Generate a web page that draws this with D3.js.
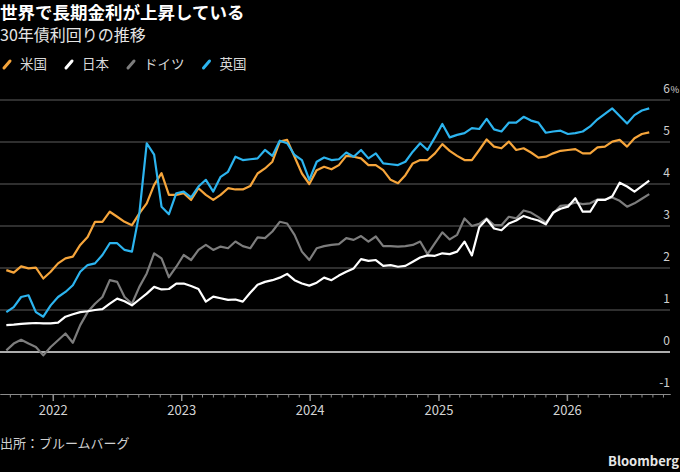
<!DOCTYPE html>
<html>
<head>
<meta charset="utf-8">
<script src="https://cdn.jsdelivr.net/npm/d3@7"></script>
<style>
  html, body { margin: 0; padding: 0; background: #000; }
  svg { display: block; font-family: "Noto Sans CJK JP", "Noto Sans", sans-serif; }
</style>
</head>
<body>
<div id="chart"></div>
<script>
const startDate = "2021-08-22";
const stepDays = 21;

const usYields = [
    1.95, 1.89, 2.04, 1.99, 2.01, 1.75, 1.91, 2.11, 2.23, 2.27, 2.55, 2.74, 3.10, 3.10, 3.34, 3.22,
    3.10, 3.02, 3.30, 3.54, 3.98, 4.26, 3.74,
    3.74, 3.78, 3.62, 3.90, 3.74, 3.62, 3.74, 3.90, 3.87, 3.87, 3.95, 4.25, 4.37, 4.53, 5.01, 5.05,
    4.65, 4.25, 4.00, 4.33, 4.41, 4.35,
    4.45, 4.67, 4.65, 4.61, 4.45, 4.45, 4.33, 4.10, 4.02, 4.21, 4.49, 4.57, 4.57, 4.73, 4.95, 4.79,
    4.67, 4.57, 4.57, 4.81, 5.06, 4.89,
    4.85, 5.01, 4.81, 4.85, 4.75, 4.63, 4.65, 4.73, 4.79, 4.81, 4.83, 4.73, 4.73, 4.87, 4.89, 5.01,
    5.05, 4.89, 5.09, 5.19, 5.23
];
const japanYields = [
    0.64, 0.65, 0.67, 0.68, 0.69, 0.68, 0.68, 0.70, 0.84, 0.90, 0.95, 0.97, 1.00, 1.02, 1.15, 1.27,
    1.21, 1.11, 1.25, 1.39, 1.55, 1.49, 1.50,
    1.63, 1.63, 1.57, 1.50, 1.20, 1.32, 1.28, 1.24, 1.25, 1.20, 1.41, 1.60, 1.67, 1.71, 1.77, 1.86,
    1.71, 1.63, 1.58, 1.65, 1.77, 1.71,
    1.82, 1.91, 1.99, 2.21, 2.17, 2.19, 2.05, 2.07, 2.03, 2.05, 2.15, 2.25, 2.30, 2.29, 2.35, 2.33,
    2.39, 2.63, 2.30, 2.97, 3.16, 2.94,
    2.90, 3.06, 3.13, 3.24, 3.18, 3.13, 3.04, 3.32, 3.41, 3.46, 3.66, 3.34, 3.34, 3.62, 3.62, 3.71,
    4.03, 3.94, 3.82, 3.95, 4.08
];
const germanyYields = [
    0.04, 0.20, 0.29, 0.20, 0.12, -0.08, 0.12, 0.28, 0.44, 0.22, 0.64, 0.95, 1.15, 1.31, 1.71, 1.67,
    1.31, 1.15, 1.55, 1.87, 2.35, 2.23, 1.78,
    2.03, 2.31, 2.19, 2.43, 2.55, 2.43, 2.51, 2.47, 2.63, 2.52, 2.47, 2.73, 2.71, 2.87, 3.10, 3.06,
    2.79, 2.39, 2.19, 2.47, 2.52, 2.55,
    2.57, 2.71, 2.67, 2.76, 2.63, 2.75, 2.52, 2.52, 2.51, 2.52, 2.55, 2.63, 2.33, 2.59, 2.85, 2.68,
    2.79, 3.18, 3.00, 3.05, 3.18, 3.02,
    3.02, 3.22, 3.18, 3.37, 3.32, 3.21, 3.08, 3.30, 3.48, 3.50, 3.56, 3.52, 3.54, 3.63, 3.63, 3.68,
    3.60, 3.46, 3.54, 3.65, 3.76
];
const ukYields = [
    0.95, 1.07, 1.31, 1.35, 0.95, 0.84, 1.11, 1.31, 1.43, 1.59, 1.91, 2.07, 2.11, 2.31, 2.59, 2.59,
    2.43, 2.39, 3.30, 4.97, 4.70, 3.46, 3.28,
    3.78, 3.82, 3.68, 3.94, 4.10, 3.82, 4.17, 4.29, 4.65, 4.57, 4.59, 4.61, 4.81, 4.67, 5.03, 4.97,
    4.69, 4.57, 4.10, 4.53, 4.63, 4.57,
    4.59, 4.75, 4.65, 4.81, 4.61, 4.73, 4.49, 4.47, 4.45, 4.53, 4.77, 4.97, 4.81, 5.11, 5.43, 5.11,
    5.17, 5.21, 5.33, 5.31, 5.55, 5.30,
    5.25, 5.46, 5.46, 5.60, 5.51, 5.46, 5.22, 5.25, 5.27, 5.19, 5.21, 5.25, 5.37, 5.54, 5.67, 5.80,
    5.62, 5.44, 5.64, 5.75, 5.80
];

const yTicks = [-1, 0, 1, 2, 3, 4, 5, 6];
const yearTicks = ["2022-01-01", "2023-01-01", "2024-01-01", "2025-01-01", "2026-01-01"];
const legendLabels = ["米国", "日本", "ドイツ", "英国"];

const W = 680, H = 472;
const parse = d3.utcParse("%Y-%m-%d");
const start = parse(startDate);
const dates = usYields.map((_, i) => d3.utcDay.offset(start, i * stepDays));

const series = [
    { name: "ドイツ", values: germanyYields, color: "#7d7d7d" },
    { name: "日本", values: japanYields, color: "#ffffff" },
    { name: "米国", values: usYields, color: "#f6a53b" },
    { name: "英国", values: ukYields, color: "#2cb4ef" }
];
const legendColors = { "米国": "#f6a53b", "日本": "#ffffff", "ドイツ": "#7d7d7d", "英国": "#2cb4ef" };

const svg = d3.select("#chart").append("svg")
    .attr("width", W)
    .attr("height", H);

svg.append("rect").attr("width", W).attr("height", H).attr("fill", "#000");

const x = d3.scaleUtc()
    .domain([parse("2021-08-04"), parse("2026-10-21")])
    .range([0, 670]);
const y = d3.scaleLinear().domain([-1, 6]).range([394, 100]);

// Title and subtitle
svg.append("text")
    .attr("x", 0).attr("y", 18.5)
    .attr("fill", "#fff")
    .style("font-size", "17.5px")
    .style("font-weight", "bold")
    .text("世界で長期金利が上昇している");

svg.append("text")
    .attr("x", 0).attr("y", 41)
    .attr("fill", "#e6e6e6")
    .style("font-size", "16px")
    .text("30年債利回りの推移");

// Legend
let lx = 2;
legendLabels.forEach(label => {
    const g = svg.append("g").attr("transform", `translate(${lx},0)`);
    g.append("line")
        .attr("x1", 2).attr("y1", 68)
        .attr("x2", 8).attr("y2", 61)
        .attr("stroke", legendColors[label])
        .attr("stroke-width", 3)
        .attr("stroke-linecap", "round");
    const t = g.append("text")
        .attr("x", 18).attr("y", 69)
        .attr("fill", "#d9d9d9")
        .style("font-size", "13.5px")
        .text(label);
    lx += 18 + t.node().getComputedTextLength() + 17;
});

// Gridlines
svg.append("g")
    .selectAll("line")
    .data(yTicks.filter(d => d > -1))
    .join("line")
    .attr("x1", 0).attr("x2", 670)
    .attr("y1", d => y(d)).attr("y2", d => y(d))
    .attr("stroke", d => d === 0 ? "#e8e8e8" : "#5e5e5e")
    .attr("stroke-width", d => d === 0 ? 1.5 : 1);

// Y labels on the right, above each gridline
const yLabels = svg.append("g")
    .attr("fill", "#cfcfcf")
    .style("font-size", "12px");
yLabels.selectAll("text")
    .data(yTicks)
    .join("text")
    .attr("x", 670)
    .attr("y", d => y(d) - 7)
    .attr("text-anchor", "end")
    .text(d => d);
yLabels.append("text")
    .attr("x", 670.5)
    .attr("y", y(6) - 7)
    .style("font-size", "9.5px")
    .text("%");

// X axis: monthly minor ticks, yearly major ticks
const minorAxis = d3.axisBottom(x)
    .tickValues(d3.utcMonth.range(x.domain()[0], x.domain()[1]))
    .tickSize(3.5)
    .tickSizeOuter(0)
    .tickFormat("");
const majorAxis = d3.axisBottom(x)
    .tickValues(yearTicks.map(parse))
    .tickSize(7)
    .tickSizeOuter(0)
    .tickPadding(5)
    .tickFormat(d3.utcFormat("%Y"));

const gMinor = svg.append("g").attr("transform", `translate(0,${y(-1)})`).call(minorAxis);
const gMajor = svg.append("g").attr("transform", `translate(0,${y(-1)})`).call(majorAxis);
[gMinor, gMajor].forEach(g => {
    g.select(".domain").attr("stroke", "#8c8c8c");
    g.selectAll(".tick line").attr("stroke", "#8c8c8c");
});
gMajor.selectAll(".tick line").attr("stroke-width", 1.5);
gMajor.selectAll(".tick text")
    .attr("fill", "#d4d4d4")
    .style("font-size", "13px")
    .style("font-family", "\"Noto Sans CJK JP\", \"Noto Sans\", sans-serif");

// Lines
const line = d3.line()
    .x((d, i) => x(dates[i]))
    .y(d => y(d));

svg.append("g")
    .selectAll("path")
    .data(series)
    .join("path")
    .attr("d", d => line(d.values))
    .attr("fill", "none")
    .attr("stroke", d => d.color)
    .attr("stroke-width", 2.2)
    .attr("stroke-linejoin", "round");

// Source and logo
svg.append("text")
    .attr("x", 0).attr("y", 447.5)
    .attr("fill", "#d0d0d0")
    .style("font-size", "13px")
    .text("出所：ブルームバーグ");

svg.append("text")
    .attr("x", 679).attr("y", 466)
    .attr("text-anchor", "end")
    .attr("fill", "#e6e6e6")
    .style("font-size", "13px")
    .style("font-weight", "bold")
    .text("Bloomberg");
</script>
</body>
</html>
